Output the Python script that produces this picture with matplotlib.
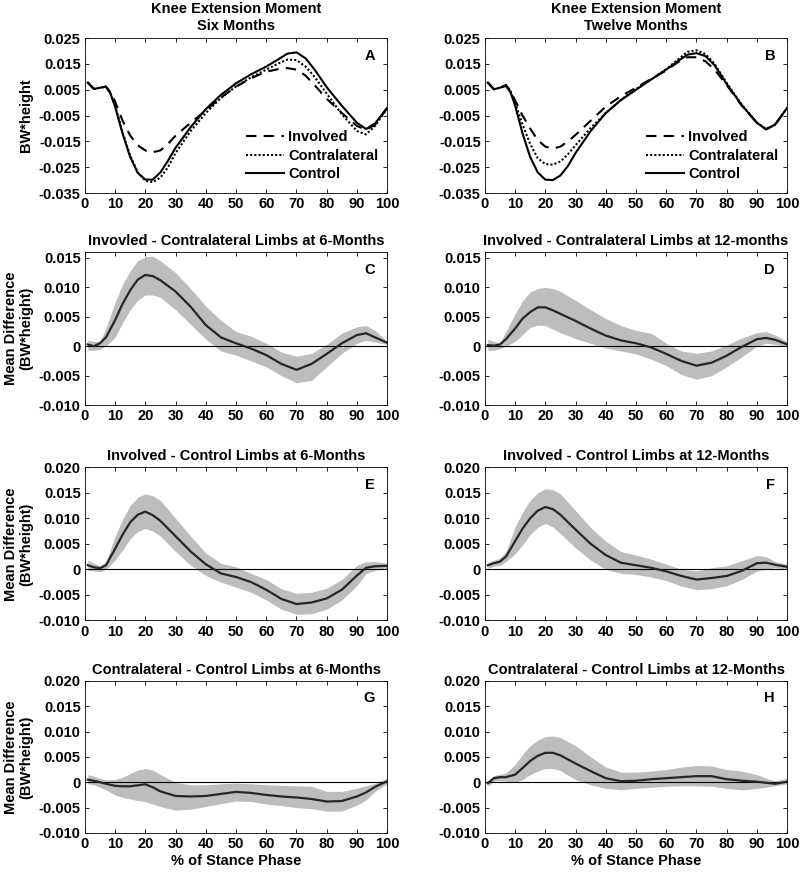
import numpy as np
import matplotlib
matplotlib.use("Agg")
import matplotlib.pyplot as plt

plt.rcParams['font.family'] = ['Liberation Sans', 'DejaVu Sans']
plt.rcParams['font.weight'] = 'bold'
plt.rcParams['axes.labelweight'] = 'bold'
plt.rcParams['axes.titleweight'] = 'bold'

# ---- top row: knee extension moment curves ----
x_top = [1, 3, 5, 7, 8.5, 10, 12.5, 15, 17.5, 20, 22.5, 25, 27.5, 30, 35, 40, 45,
         50, 55, 60, 64, 67, 70, 73, 76, 80, 85, 90, 93, 96, 100]

a_involved = [0.0078, 0.0053, 0.0058, 0.0062, 0.0040, 0.0005, -0.0070, -0.0127, -0.0165, -0.0185, -0.0192,
              -0.0185, -0.0160, -0.0128, -0.0078, -0.0030, 0.0020, 0.0062, 0.0095, 0.0120, 0.0130,
              0.0134, 0.0128, 0.0105, 0.0068, 0.0015, -0.0040, -0.0090, -0.0105, -0.0085, -0.0020]
a_contra = [0.0078, 0.0053, 0.0058, 0.0062, 0.0035, -0.0010, -0.0115, -0.0205, -0.0270, -0.0302, -0.0308,
            -0.0290, -0.0250, -0.0195, -0.0110, -0.0040, 0.0018, 0.0063, 0.0098, 0.0128, 0.0152,
            0.0167, 0.0165, 0.0140, 0.0100, 0.0035, -0.0045, -0.0110, -0.0123, -0.0090, -0.0022]
a_control = [0.0078, 0.0053, 0.0058, 0.0062, 0.0035, -0.0015, -0.0120, -0.0210, -0.0272, -0.0298, -0.0298,
             -0.0270, -0.0225, -0.0175, -0.0095, -0.0025, 0.0030, 0.0075, 0.0110, 0.0140, 0.0168,
             0.0190, 0.0195, 0.0172, 0.0128, 0.0060, -0.0012, -0.0078, -0.0102, -0.0080, -0.0020]

b_involved = [0.0078, 0.0052, 0.0058, 0.0068, 0.0045, 0.0010, -0.0050, -0.0100, -0.0145, -0.0170, -0.0178,
              -0.0170, -0.0150, -0.0125, -0.0070, -0.0015, 0.0025, 0.0058, 0.0092, 0.0125, 0.0158,
              0.0176, 0.0176, 0.0160, 0.0128, 0.0068, -0.0012, -0.0078, -0.0103, -0.0085, -0.0020]
b_contra = [0.0078, 0.0052, 0.0058, 0.0068, 0.0045, 0.0000, -0.0085, -0.0160, -0.0215, -0.0238, -0.0240,
            -0.0228, -0.0200, -0.0165, -0.0098, -0.0040, 0.0010, 0.0053, 0.0090, 0.0130, 0.0168,
            0.0197, 0.0203, 0.0188, 0.0150, 0.0076, -0.0008, -0.0078, -0.0103, -0.0085, -0.0020]
b_control = [0.0078, 0.0052, 0.0058, 0.0065, 0.0040, -0.0010, -0.0120, -0.0210, -0.0270, -0.0298, -0.0300,
             -0.0282, -0.0245, -0.0195, -0.0110, -0.0040, 0.0010, 0.0050, 0.0090, 0.0128, 0.0162,
             0.0186, 0.0192, 0.0180, 0.0145, 0.0072, -0.0010, -0.0078, -0.0103, -0.0085, -0.0020]

# ---- difference panels: mean and band ----
x_diff = [1, 3, 5, 7, 10, 12.5, 15, 17.5, 20, 22.5, 25, 30, 35, 40, 45, 50, 55, 60,
          65, 70, 75, 80, 85, 90, 93, 96, 100]

c_mean = [0.0003, 0.0, 0.0005, 0.0015, 0.0044, 0.0072, 0.0095, 0.0113, 0.0121, 0.0119, 0.0112, 0.0093,
          0.0067, 0.0036, 0.0015, 0.0005, -0.0004, -0.0015, -0.0030, -0.0040, -0.0030, -0.0013, 0.0005,
          0.0019, 0.0022, 0.0015, 0.0006]
c_up = [0.0010, 0.0008, 0.0008, 0.0030, 0.0075, 0.0105, 0.0128, 0.0145, 0.0152, 0.0153, 0.0145, 0.0125,
        0.0098, 0.0068, 0.0044, 0.0025, 0.0017, 0.0005, -0.0010, -0.0017, -0.0012, 0.0003, 0.0022,
        0.0033, 0.0035, 0.0027, 0.0008]
c_lo = [-0.0007, -0.0007, -0.0005, 0.0, 0.0015, 0.0040, 0.0062, 0.0078, 0.0087, 0.0087, 0.0083, 0.0062,
        0.0037, 0.0012, -0.0008, -0.0015, -0.0025, -0.0035, -0.0050, -0.0062, -0.0058, -0.0035, -0.0012,
        0.0005, 0.0010, 0.0007, 0.0003]

d_mean = [0.0002, 0.0001, 0.0003, 0.0012, 0.0030, 0.0047, 0.0058, 0.0066, 0.0066, 0.0061, 0.0055, 0.0043,
          0.0030, 0.0018, 0.0010, 0.0005, -0.0002, -0.0013, -0.0025, -0.0033, -0.0028, -0.0016, -0.0001,
          0.0012, 0.0014, 0.0011, 0.0003]
d_up = [0.0012, 0.0008, 0.0006, 0.0025, 0.0055, 0.0077, 0.0092, 0.0098, 0.0100, 0.0098, 0.0093, 0.0078,
        0.0062, 0.0047, 0.0035, 0.0027, 0.0022, 0.0005, -0.0008, -0.0012, -0.0008, 0.0002, 0.0014,
        0.0023, 0.0025, 0.0019, 0.0008]
d_lo = [-0.0007, -0.0007, -0.0004, 0.0, 0.0008, 0.0020, 0.0032, 0.0036, 0.0035, 0.0029, 0.0023, 0.0013,
        0.0005, -0.0003, -0.0008, -0.0013, -0.0022, -0.0033, -0.0048, -0.0056, -0.0050, -0.0035, -0.0018,
        0.0, 0.0005, 0.0003, 0.0]

e_mean = [0.0008, 0.0004, 0.0002, 0.0008, 0.0040, 0.0068, 0.0092, 0.0107, 0.0113, 0.0106, 0.0095, 0.0065,
          0.0035, 0.0010, -0.0008, -0.0015, -0.0025, -0.0040, -0.0058, -0.0068, -0.0065, -0.0057, -0.0040,
          -0.0012, 0.0003, 0.0006, 0.0007]
e_up = [0.0018, 0.0012, 0.0007, 0.0015, 0.0065, 0.0098, 0.0125, 0.0141, 0.0148, 0.0144, 0.0135, 0.0100,
        0.0065, 0.0032, 0.0012, 0.0005, -0.0008, -0.0020, -0.0038, -0.0047, -0.0045, -0.0037, -0.0020,
        0.0008, 0.0015, 0.0015, 0.0012]
e_lo = [-0.0002, -0.0003, -0.0005, 0.0, 0.0018, 0.0038, 0.0060, 0.0074, 0.0080, 0.0075, 0.0065, 0.0035,
        0.0008, -0.0012, -0.0025, -0.0035, -0.0045, -0.0060, -0.0078, -0.0088, -0.0087, -0.0078, -0.0060,
        -0.0032, -0.0008, -0.0002, 0.0002]

f_mean = [0.0008, 0.0012, 0.0015, 0.0025, 0.0055, 0.0080, 0.0100, 0.0115, 0.0122, 0.0118, 0.0107, 0.0078,
          0.0050, 0.0028, 0.0013, 0.0008, 0.0003, -0.0004, -0.0013, -0.0020, -0.0017, -0.0013, -0.0003,
          0.0012, 0.0013, 0.0009, 0.0005]
f_up = [0.0013, 0.0018, 0.0022, 0.0035, 0.0083, 0.0112, 0.0135, 0.0150, 0.0158, 0.0156, 0.0148, 0.0115,
        0.0082, 0.0055, 0.0035, 0.0028, 0.0020, 0.0010, 0.0, -0.0003, 0.0003, 0.0007, 0.0017,
        0.0027, 0.0025, 0.0015, 0.0010]
f_lo = [0.0002, 0.0006, 0.0008, 0.0015, 0.0030, 0.0048, 0.0068, 0.0082, 0.0090, 0.0083, 0.0070, 0.0042,
        0.0018, 0.0, -0.0008, -0.0010, -0.0015, -0.0022, -0.0033, -0.0040, -0.0038, -0.0032, -0.0020,
        -0.0003, 0.0, 0.0003, 0.0]

g_mean = [0.0005, 0.0003, 0.0, -0.0003, -0.0007, -0.0008, -0.0008, -0.0006, -0.0004, -0.0010, -0.0018,
          -0.0027, -0.0028, -0.0027, -0.0023, -0.0019, -0.0021, -0.0025, -0.0028, -0.0030, -0.0033,
          -0.0038, -0.0037, -0.0028, -0.0020, -0.0009, 0.0002]
g_up = [0.0015, 0.0012, 0.0008, 0.0005, 0.0005, 0.0010, 0.0017, 0.0024, 0.0027, 0.0024, 0.0015, 0.0,
        -0.0005, -0.0005, -0.0003, -0.0002, -0.0003, -0.0005, -0.0006, -0.0007, -0.0008, -0.0018,
        -0.0018, -0.0012, -0.0007, -0.0002, 0.0008]
g_lo = [-0.0003, -0.0005, -0.0010, -0.0015, -0.0025, -0.0030, -0.0033, -0.0036, -0.0038, -0.0043, -0.0048,
        -0.0055, -0.0053, -0.0048, -0.0042, -0.0037, -0.0038, -0.0043, -0.0046, -0.0050, -0.0052,
        -0.0057, -0.0057, -0.0045, -0.0035, -0.0018, -0.0003]

h_mean = [-0.0002, 0.0008, 0.0010, 0.0010, 0.0015, 0.0028, 0.0042, 0.0052, 0.0058, 0.0058, 0.0053, 0.0037,
          0.0022, 0.0008, 0.0002, 0.0003, 0.0006, 0.0008, 0.0010, 0.0012, 0.0012, 0.0006, 0.0003,
          0.0001, -0.0001, -0.0003, 0.0001]
h_up = [0.0003, 0.0013, 0.0016, 0.0018, 0.0035, 0.0055, 0.0072, 0.0083, 0.0090, 0.0091, 0.0088, 0.0072,
        0.0050, 0.0030, 0.0020, 0.0020, 0.0022, 0.0025, 0.0030, 0.0033, 0.0032, 0.0025, 0.0022,
        0.0015, 0.0008, 0.0003, 0.0008]
h_lo = [-0.0008, 0.0002, 0.0003, 0.0002, 0.0, 0.0005, 0.0015, 0.0022, 0.0027, 0.0027, 0.0023, 0.0005,
        -0.0005, -0.0012, -0.0015, -0.0012, -0.0010, -0.0008, -0.0007, -0.0007, -0.0008, -0.0012,
        -0.0015, -0.0012, -0.0010, -0.0007, -0.0003]

diff_titles = ['Invovled - Contralateral Limbs at 6-Months',
               'Involved - Contralateral Limbs at 12-months',
               'Involved - Control Limbs at 6-Months',
               'Involved - Control Limbs at 12-Months',
               'Contralateral - Control Limbs at 6-Months',
               'Contralateral - Control Limbs at 12-Months']
diff_letters = ['C', 'D', 'E', 'F', 'G', 'H']
diff_data = [(c_mean, c_lo, c_up), (d_mean, d_lo, d_up), (e_mean, e_lo, e_up),
             (f_mean, f_lo, f_up), (g_mean, g_lo, g_up), (h_mean, h_lo, h_up)]

fig = plt.figure(figsize=(8, 8.75), dpi=100)

lefts = [0.106, 0.606]
w = 0.378
row_bottoms = [0.7794, 0.537, 0.291, 0.048]
row_h = [0.177, 0.175, 0.175, 0.174]


def style(ax, yticks, ylabels):
    ax.set_xlim(0, 100)
    ax.set_xticks(np.arange(0, 101, 10))
    ax.set_yticks(yticks)
    ax.set_yticklabels(ylabels)
    ax.tick_params(direction='in', top=True, right=True, length=3, width=0.6,
                   labelsize=10.5, pad=3)
    for lab in ax.get_xticklabels() + ax.get_yticklabels():
        lab.set_fontweight('bold')
    for sp in ax.spines.values():
        sp.set_linewidth(0.6)


# top row
top_titles = ['Knee Extension Moment\nSix Months', 'Knee Extension Moment\nTwelve Months']
top_data = [(a_involved, a_contra, a_control), (b_involved, b_contra, b_control)]
for i in range(2):
    ax = fig.add_axes([lefts[i], row_bottoms[0], w, row_h[0]])
    inv, con, ctl = top_data[i]
    ax.plot(x_top, inv, color='black', lw=1.5, ls=(0, (5, 3.5)), label='Involved')
    ax.plot(x_top, con, color='black', lw=1.5, ls=(0, (1, 1)), label='Contralateral')
    ax.plot(x_top, ctl, color='black', lw=1.5, ls='-', label='Control')
    ax.set_ylim(-0.035, 0.025)
    yt = np.arange(-0.035, 0.0251, 0.01)
    style(ax, yt, ['%.3f' % v for v in yt])
    ax.set_title(top_titles[i], fontsize=10.5, fontweight='bold', pad=6, linespacing=1.3)
    ax.text(0.96, 0.93, 'AB'[i], transform=ax.transAxes, ha='right', va='top',
            fontsize=10.5, fontweight='bold')
    leg = ax.legend(loc='lower right', bbox_to_anchor=(1.0, 0.02), frameon=False,
                    fontsize=10.5, handlelength=2.6, handletextpad=0.3, labelspacing=0.3,
                    borderaxespad=0.2)
    for t in leg.get_texts():
        t.set_fontweight('bold')
    if i == 0:
        ax.set_ylabel('BW*height', fontsize=10.5, labelpad=4)

# difference rows
for k in range(6):
    r = k // 2 + 1
    c = k % 2
    ax = fig.add_axes([lefts[c], row_bottoms[r], w, row_h[r]])
    m, lo, up = diff_data[k]
    ax.fill_between(x_diff, lo, up, color='#bdbdbd', lw=0)
    ax.axhline(0, color='black', lw=0.8)
    ax.plot(x_diff, m, color='#262626', lw=1.6)
    if r == 1:
        ax.set_ylim(-0.010, 0.016)
        yt = [-0.010, -0.005, 0, 0.005, 0.010, 0.015]
        yl = ['-0.010', '-0.005', '0', '0.005', '0.010', '0.015']
    else:
        ax.set_ylim(-0.010, 0.020)
        yt = [-0.010, -0.005, 0, 0.005, 0.010, 0.015, 0.020]
        yl = ['-0.010', '-0.005', '0', '0.005', '0.010', '0.015', '0.020']
    style(ax, yt, yl)
    ax.set_title(diff_titles[k], fontsize=10.5, fontweight='bold', pad=5)
    ax.text(0.96, 0.93, diff_letters[k], transform=ax.transAxes, ha='right', va='top',
            fontsize=10.5, fontweight='bold')
    if c == 0:
        ax.set_ylabel('Mean Difference\n(BW*height)', fontsize=10.5, labelpad=4,
                      linespacing=1.1)
    if r == 3:
        ax.set_xlabel('% of Stance Phase', fontsize=10.5, labelpad=2)

fig.savefig('out.png', dpi=100, facecolor='white')
